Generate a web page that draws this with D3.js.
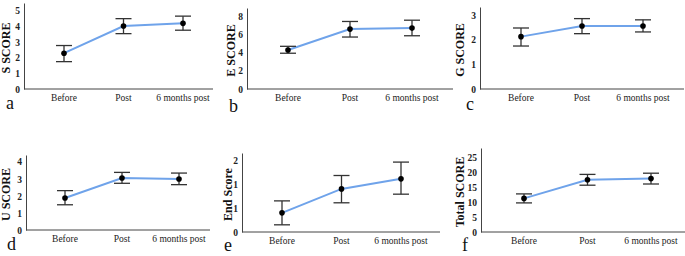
<!DOCTYPE html>
<html>
<head>
<meta charset="utf-8">
<script src="https://cdnjs.cloudflare.com/ajax/libs/d3/7.8.5/d3.min.js"></script>
<style>
  body { margin: 0; background: #fff; }
  svg { display: block; }
  .cat { font-family: "Liberation Serif", "Times New Roman", serif; font-size: 9.5px; fill: #222; }
  .tlab { font-family: "Liberation Serif", "Times New Roman", serif; font-size: 9.5px; font-weight: bold; fill: #222; }
  .ylab { font-family: "Liberation Serif", "Times New Roman", serif; font-size: 12px; font-weight: bold; fill: #111; }
  .letter { font-family: "Liberation Serif", "Times New Roman", serif; font-size: 18px; fill: #111; }
</style>
</head>
<body>
<div id="chart"></div>
<script>
var categories = ["Before", "Post", "6 months post"]

var titles = ["S SCORE", "E SCORE", "G SCORE", "U SCORE", "End Score", "Total SCORE"]
var letters = ["a", "b", "c", "d", "e", "f"]

// means and error bar ends, one row per panel
var means = [
  [2.29, 4.03, 4.2],
  [4.29, 6.58, 6.69],
  [2.12, 2.55, 2.55],
  [1.88, 3.05, 2.99],
  [0.40, 0.90, 1.11],
  [11.2, 17.4, 17.8]
]
var upper = [
  [2.78, 4.5, 4.66],
  [4.69, 7.42, 7.56],
  [2.47, 2.85, 2.8],
  [2.31, 3.38, 3.34],
  [0.65, 1.18, 1.46],
  [12.7, 19.2, 19.6]
]
var lower = [
  [1.75, 3.54, 3.76],
  [3.93, 5.71, 5.85],
  [1.74, 2.24, 2.31],
  [1.48, 2.74, 2.66],
  [0.15, 0.61, 0.79],
  [9.7, 15.6, 16.0]
]
var yMax = [5.5, 8.9, 3.32, 4.4, 1.65, 28]
var yTicks = [
  [0, 1, 2, 3, 4, 5],
  [0, 2, 4, 6, 8],
  [0, 1, 2, 3],
  [0, 1, 2, 3, 4],
  [0, 0.5, 1, 1.5],
  [0, 5, 10, 15, 20, 25]
]

// layout of each small panel (axis box, first/last category, label spots)
var panels = [
  {left: 24,  right: 213, top: 3,   bottom: 89,  c0: 64,  c1: 183, labX: 6,   lx: 6,   ly: 109},
  {left: 247, right: 453, top: 8,   bottom: 89,  c0: 288, c1: 412, labX: 231, lx: 229, ly: 112},
  {left: 480, right: 684, top: 7,   bottom: 89,  c0: 521, c1: 643, labX: 460, lx: 466, ly: 110},
  {left: 26,  right: 210, top: 155, bottom: 230, c0: 65,  c1: 179, labX: 6,   lx: 7,   ly: 250},
  {left: 242, right: 440, top: 153, bottom: 232, c0: 282, c1: 401, labX: 228, lx: 224, ly: 251},
  {left: 481, right: 685, top: 148, bottom: 232, c0: 524, c1: 651, labX: 460, lx: 462, ly: 251}
]

var svg = d3.select("#chart").append("svg")
    .attr("width", 685)
    .attr("height", 256)

panels.forEach(function(p, k) {
  var g = svg.append("g")

  var x = d3.scalePoint().domain(categories).range([p.c0, p.c1])
  var y = d3.scaleLinear().domain([0, yMax[k]]).range([p.bottom, p.top])

  // axes (no tick marks, just labels)
  var yAxis = d3.axisLeft(y).tickValues(yTicks[k]).tickSize(0).tickPadding(4)
      .tickFormat(d3.format(".0f"))
  var ya = g.append("g").attr("transform", "translate(" + p.left + ",0)").call(yAxis)
  ya.select(".domain").attr("stroke", "#444").attr("stroke-width", 1)
  ya.selectAll("text").attr("class", "tlab").attr("fill", null).attr("dy", "0.33em")

  g.append("line")
      .attr("x1", p.left).attr("x2", p.right)
      .attr("y1", p.bottom).attr("y2", p.bottom)
      .attr("stroke", "#444").attr("stroke-width", 1)

  g.selectAll(".cat").data(categories).enter().append("text")
      .attr("class", "cat")
      .attr("x", function(d) { return x(d) })
      .attr("y", p.bottom + 12)
      .attr("text-anchor", "middle")
      .text(function(d) { return d })

  // y title
  g.append("text")
      .attr("class", "ylab")
      .attr("transform", "translate(" + p.labX + "," + ((p.top + p.bottom) / 2 + 2) + ") rotate(-90)")
      .attr("text-anchor", "middle")
      .attr("dy", "0.35em")
      .text(titles[k])

  // panel letter
  g.append("text")
      .attr("class", "letter")
      .attr("x", p.lx)
      .attr("y", p.ly)
      .text(letters[k])

  // line through means
  var line = d3.line()
      .x(function(d, i) { return x(categories[i]) })
      .y(function(d) { return y(d) })
  g.append("path")
      .datum(means[k])
      .attr("d", line)
      .attr("fill", "none")
      .attr("stroke", "#6fa3ea")
      .attr("stroke-width", 2)

  // error bars
  var bars = g.selectAll(".err").data(categories).enter().append("g").attr("class", "err")
  bars.append("line")
      .attr("x1", function(d) { return x(d) }).attr("x2", function(d) { return x(d) })
      .attr("y1", function(d, i) { return y(upper[k][i]) })
      .attr("y2", function(d, i) { return y(lower[k][i]) })
      .attr("stroke", "#333").attr("stroke-width", 1.3)
  bars.append("line")
      .attr("x1", function(d) { return x(d) - 8 }).attr("x2", function(d) { return x(d) + 8 })
      .attr("y1", function(d, i) { return y(upper[k][i]) })
      .attr("y2", function(d, i) { return y(upper[k][i]) })
      .attr("stroke", "#333").attr("stroke-width", 1.3)
  bars.append("line")
      .attr("x1", function(d) { return x(d) - 8 }).attr("x2", function(d) { return x(d) + 8 })
      .attr("y1", function(d, i) { return y(lower[k][i]) })
      .attr("y2", function(d, i) { return y(lower[k][i]) })
      .attr("stroke", "#333").attr("stroke-width", 1.3)
  bars.append("circle")
      .attr("cx", function(d) { return x(d) })
      .attr("cy", function(d, i) { return y(means[k][i]) })
      .attr("r", 2.8)
      .attr("fill", "#000")
})
</script>
</body>
</html>
